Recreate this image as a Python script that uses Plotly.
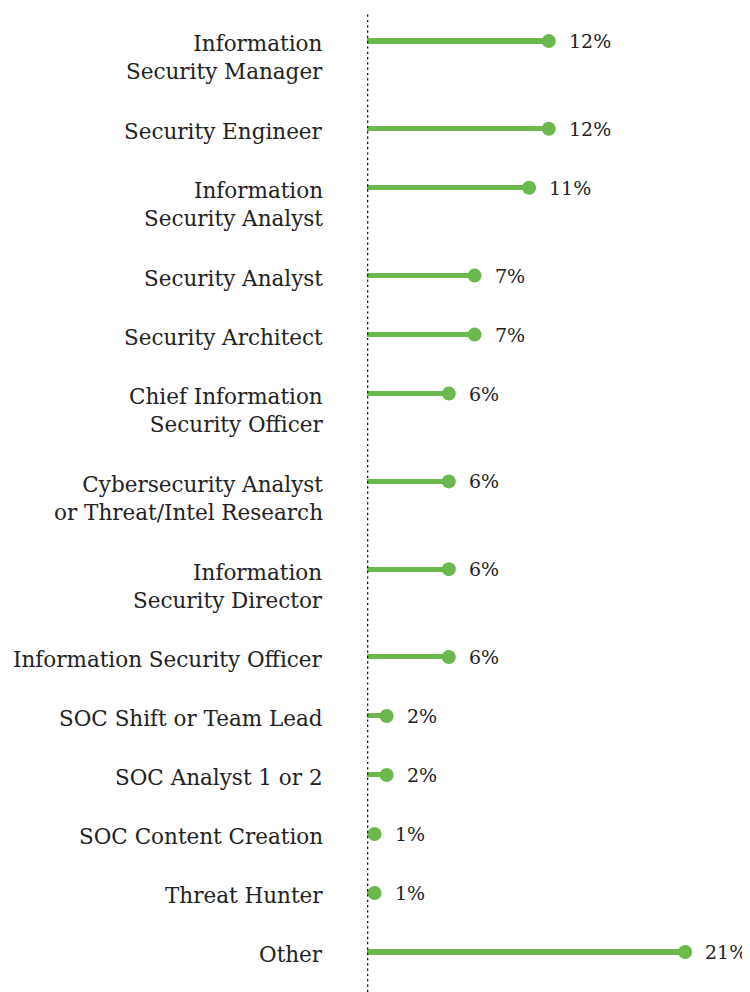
import plotly.graph_objects as go

categories = [
    "Information<br>Security Manager",
    "Security Engineer",
    "Information<br>Security Analyst",
    "Security Analyst",
    "Security Architect",
    "Chief Information<br>Security Officer",
    "Cybersecurity Analyst<br>or Threat/Intel Research",
    "Information<br>Security Director",
    "Information Security Officer",
    "SOC Shift or Team Lead",
    "SOC Analyst 1 or 2",
    "SOC Content Creation",
    "Threat Hunter",
    "Other",
]
values = [12.0, 12.0, 10.7, 7.1, 7.1, 5.4, 5.4, 5.4, 5.4, 1.3, 1.3, 0.5, 0.5, 21.0]
value_labels = ["12%", "12%", "11%", "7%", "7%", "6%", "6%", "6%", "6%",
                "2%", "2%", "1%", "1%", "21%"]

GREEN = "#6bb94c"
TEXT = "#222222"
FONT = "DejaVu Serif"
LABEL_SIZE = 21.5
LINE_H = 1.3 * LABEL_SIZE
GAP = 1.05  # gap between rows, in text-line units

# row positions derived from the number of text lines in each label
n_lines = [c.count("<br>") + 1 for c in categories]
ypos = []
acc = 0.0
for n in n_lines:
    ypos.append(acc)
    acc += n + GAP

fig = go.Figure()
fig.add_trace(go.Bar(
    x=values, y=ypos, orientation="h", width=0.175,
    marker=dict(color=GREEN, line=dict(width=0)),
    hoverinfo="skip", showlegend=False,
))
fig.add_trace(go.Scatter(
    x=values, y=ypos, mode="markers",
    marker=dict(color=GREEN, size=14, line=dict(width=0)),
    showlegend=False, cliponaxis=False,
))

annotations = []
for cat, n, y in zip(categories, n_lines, ypos):
    annotations.append(dict(
        x=0, y=y, xref="x", yref="y", text=cat, showarrow=False,
        xanchor="right", yanchor="middle", align="right",
        xshift=-42, yshift=-(3 + (n - 1) * LINE_H / 2),
        font=dict(family=FONT, size=LABEL_SIZE, color=TEXT),
    ))
for v, lab, y in zip(values, value_labels, ypos):
    annotations.append(dict(
        x=v, y=y, xref="x", yref="y", text=lab, showarrow=False,
        xanchor="left", yanchor="middle", xshift=18, yshift=0,
        font=dict(family=FONT, size=19, color=TEXT),
    ))

fig.add_shape(type="line", xref="x", yref="paper", x0=0, x1=0,
              y0=0, y1=1 - 4 / 984,
              line=dict(color="#111111", width=2.6, dash="2.2px,3.1px"))

fig.update_layout(
    width=742, height=984,
    margin=dict(l=359, r=0, t=0, b=0),
    paper_bgcolor="white", plot_bgcolor="white",
    xaxis=dict(range=[0, 25.28], visible=False, fixedrange=True),
    yaxis=dict(range=[33.04, -1.1466], visible=False, fixedrange=True),
    annotations=annotations,
    bargap=0,
)
fig.write_html("out.html")
